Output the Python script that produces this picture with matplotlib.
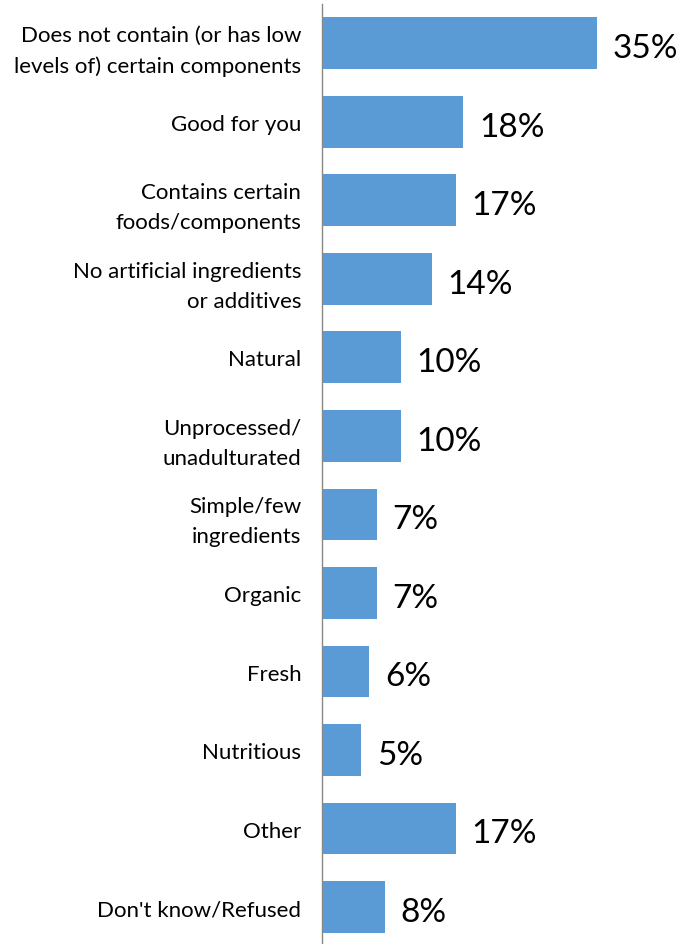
import matplotlib
matplotlib.use('Agg')
from matplotlib import pyplot as plt

# survey answers, top to bottom
labels = ['Does not contain (or has low\nlevels of) certain components',
          'Good for you',
          'Contains certain\nfoods/components',
          'No artificial ingredients\nor additives',
          'Natural',
          'Unprocessed/\nunadulturated',
          'Simple/few\ningredients',
          'Organic',
          'Fresh',
          'Nutritious',
          'Other',
          "Don't know/Refused"]
pct = [35, 18, 17, 14, 10, 10, 7, 7, 6, 5, 17, 8]

plt.rcParams['font.family'] = ['Lato', 'DejaVu Sans']

fig = plt.figure(figsize=(6.92, 9.45), dpi=100)
ax = fig.add_axes([322 / 692, 0, 314.3 / 692, 940 / 945])

y = list(range(len(labels)))
ax.barh(y, pct, height=0.66, color='#5B9BD5')
for yi, v in zip(y, pct):
    ax.text(v + 2.0, yi + 0.06, f'{v}%', va='center', ha='left', fontsize=24, color='black')

ax.set_xlim(0, 40)
ax.set_ylim(11.47, -0.5)
ax.set_yticks(y)
ax.set_yticklabels(labels, fontsize=16, linespacing=1.62)
ax.tick_params(axis='y', length=0, pad=15)
ax.set_xticks([])
for s in ['top', 'right', 'bottom']:
    ax.spines[s].set_visible(False)
ax.spines['left'].set_color('#888888')
ax.spines['left'].set_linewidth(1.0)

fig.savefig('out.png', dpi=100)
